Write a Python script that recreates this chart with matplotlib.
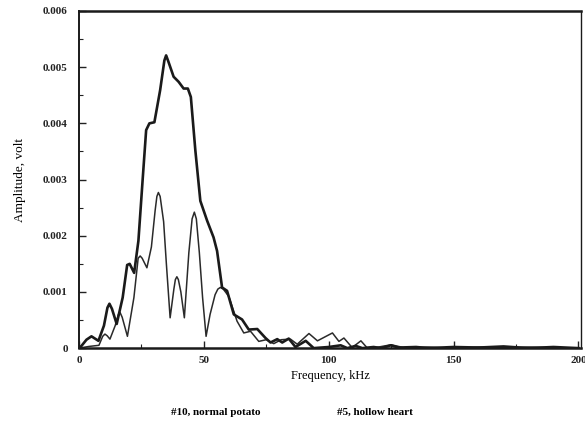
import matplotlib.pyplot as plt
from matplotlib.ticker import MultipleLocator

# thick curve (#5, hollow heart)
freq_hollow = [0, 1, 3, 5, 7.8, 10, 11.4, 12.2, 13.2, 15.1, 17.5, 19.3, 20.3, 22.1, 23.8,
               25.5, 26.9, 28.2, 30.2, 32.5, 34.2, 34.9, 35.8, 37.9, 39.9, 41.9, 43.6,
               44.8, 46.6, 48.6, 51.3, 53.9, 55.3, 57.3, 59.3, 62, 65.3, 68, 71.4, 74.7,
               76.7, 79.4, 81.4, 84, 86.7, 90.8, 94, 100, 104.8, 107.5, 110.8, 113.5,
               118, 121, 124.9, 128, 135, 140, 150, 160, 170, 180, 190, 200]
amp_hollow = [0, 0.00004, 0.00015, 0.00021, 0.00013, 0.0004, 0.00072, 0.00079, 0.0007,
              0.00043, 0.0009, 0.00148, 0.0015, 0.00134, 0.00191, 0.003, 0.00388,
              0.004, 0.00402, 0.00459, 0.00512, 0.00521, 0.0051, 0.00483, 0.00474,
              0.00462, 0.00462, 0.00447, 0.00352, 0.00262, 0.00227, 0.00197, 0.00173,
              0.00108, 0.00102, 0.0006, 0.00051, 0.00033, 0.00034, 0.00018, 0.0001,
              0.00016, 0.0001, 0.00017, 0.00002, 0.00013, 0.0, 0.00002, 0.00005, 0.0,
              0.00004, 0.0, 0.00002, 0.0, 0.00005, 0.00001, 0.00002, 0.0, 0.00002,
              0.00001, 0.00003, 0.0, 0.00002, 0.0]

# thin curve (#10, normal potato)
freq_normal = [0, 4, 8, 9.5, 10.4, 11.3, 12.4, 14.5, 15.8, 16.5, 17.3, 19.4, 22, 23.7,
               24.5, 25.3, 27.2, 29, 30.5, 31.2, 31.8, 32.5, 33.9, 35, 36.5, 38, 38.6,
               39.2, 39.8, 40.8, 42.2, 44, 45.3, 46.2, 47, 48.2, 49.5, 50.9, 52.5, 54.5,
               55.6, 56.6, 57.8, 60, 63.3, 66, 68.7, 72, 75, 78, 81, 84.7, 87.4, 92.1,
               95.5, 101.5, 104.1, 106.1, 109.4, 112.9, 115.5, 120, 125, 130, 140, 150,
               160, 170, 180, 190, 200]
amp_normal = [0, 0.00003, 0.00005, 0.00021, 0.00025, 0.00022, 0.00016, 0.0004, 0.0006,
              0.00063, 0.00055, 0.00021, 0.0009, 0.0016, 0.00164, 0.0016, 0.00143,
              0.0018, 0.00245, 0.0027, 0.00277, 0.0027, 0.00225, 0.0015, 0.00054,
              0.00105, 0.00122, 0.00127, 0.00122, 0.001, 0.00054, 0.0017, 0.0023,
              0.00242, 0.0023, 0.0017, 0.0009, 0.00021, 0.0006, 0.00095, 0.00105,
              0.00108, 0.00105, 0.00092, 0.00048, 0.00027, 0.0003, 0.00012, 0.00015,
              0.00008, 0.00015, 0.00016, 0.00007, 0.00026, 0.00013, 0.00027, 0.00012,
              0.00018, 0.00001, 0.00013, 0.0, 0.00002, 0.00006, 0.00001, 0.00002, 0.0,
              0.00002, 0.00001, 0.00002, 0.00001, 0.0]

x_ticks = [0, 50, 100, 150, 200]
y_ticks = [0, 0.001, 0.002, 0.003, 0.004, 0.005, 0.006]
y_tick_labels = ['0', '0.001', '0.002', '0.003', '0.004', '0.005', '0.006']

plt.rcParams['font.family'] = ['Liberation Serif', 'DejaVu Serif']

fig = plt.figure(figsize=(5.85, 4.23), dpi=100)
ax = fig.add_axes([0.135, 0.177, 0.858, 0.797])

ax.plot(freq_normal, amp_normal, color='#2a2a2a', lw=1.1)
ax.plot(freq_hollow, amp_hollow, color='#1a1a1a', lw=1.9)

ax.set_xlim(0, 201)
ax.set_ylim(0, 0.006)
ax.set_xticks(x_ticks)
ax.set_xticklabels([str(v) for v in x_ticks])
ax.set_yticks(y_ticks)
ax.set_yticklabels(y_tick_labels)
ax.xaxis.set_minor_locator(MultipleLocator(25))
ax.yaxis.set_minor_locator(MultipleLocator(0.0005))
ax.tick_params(which='both', direction='in', colors='#222222', labelsize=8,
               top=False, right=False)
ax.tick_params(which='major', length=5, width=1)
ax.tick_params(which='minor', length=3, width=0.8)
for lbl in ax.get_xticklabels() + ax.get_yticklabels():
    lbl.set_fontweight('bold')
ax.tick_params(axis='x', pad=6)
ax.tick_params(axis='y', pad=8)

for side, w in [('top', 1.8), ('bottom', 1.8), ('left', 1.4), ('right', 1.0)]:
    ax.spines[side].set_linewidth(w)
    ax.spines[side].set_color('#1a1a1a')

ax.set_xlabel('Frequency, kHz', fontsize=9, labelpad=3)
ax.set_ylabel('Amplitude, volt', fontsize=9.5, labelpad=12)

fig.text(0.369, 0.026, '#10, normal potato', fontsize=8, fontweight='bold',
         ha='center', va='center')
fig.text(0.641, 0.026, '#5, hollow heart', fontsize=8, fontweight='bold',
         ha='center', va='center')

fig.savefig('out.png', dpi=100)
